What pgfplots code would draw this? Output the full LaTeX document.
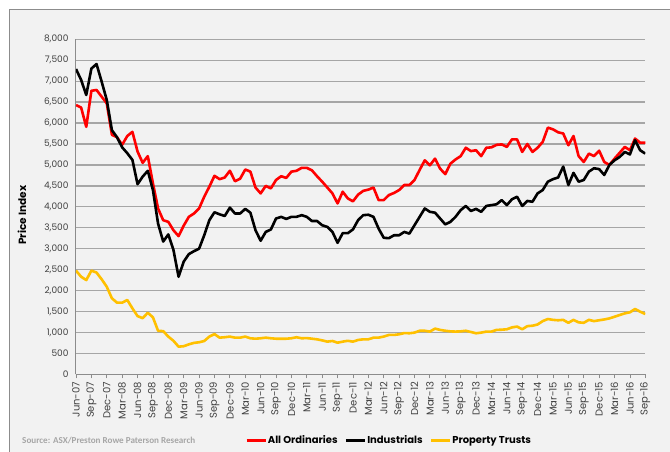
\documentclass[border=0pt]{standalone}
\usepackage{pgfplots}
\pgfplotsset{compat=1.18}
\usepackage{pgfplotstable}
\usepackage{fontspec}
\setmainfont{Poppins}
\newfontfamily\srcfont{Carlito}
\definecolor{bg}{HTML}{F2F2F2}
\definecolor{framegray}{HTML}{8C8C8C}
\definecolor{gridgray}{HTML}{A6A6A6}
\definecolor{axisgray}{HTML}{8C8C8C}
\definecolor{tickcol}{HTML}{404040}
\definecolor{srcgray}{HTML}{A6A6A6}
\definecolor{aored}{HTML}{FF0000}
\definecolor{ptyellow}{HTML}{FFC000}
\pgfplotsset{legend image code/.code={\draw[#1,line width=2.6pt] (0pt,0pt) -- (19pt,0pt);}}

\pgfplotstableread{
m ao ind pt
0 6430 7290 2475
1 6370 7030 2330
2 5910 6670 2250
3 6770 7300 2475
4 6790 7410 2430
5 6630 6990 2270
6 6470 6550 2090
7 5720 5830 1815
8 5660 5660 1710
9 5480 5420 1710
10 5690 5280 1775
11 5790 5120 1575
12 5320 4540 1390
13 5050 4720 1340
14 5210 4860 1470
15 4560 4400 1360
16 3960 3600 1040
17 3680 3170 1030
18 3640 3340 900
19 3440 2970 800
20 3300 2330 660
21 3550 2690 670
22 3760 2870 715
23 3840 2940 750
24 3960 3000 765
25 4240 3320 795
26 4480 3680 900
27 4740 3870 960
28 4660 3820 875
29 4700 3780 885
30 4860 3980 900
31 4610 3840 875
32 4670 3840 875
33 4890 3950 900
34 4840 3860 860
35 4460 3440 850
36 4320 3190 860
37 4500 3400 875
38 4440 3460 860
39 4640 3720 850
40 4730 3760 850
41 4690 3710 850
42 4840 3760 860
43 4860 3760 885
44 4930 3800 860
45 4930 3760 865
46 4870 3660 850
47 4730 3660 835
48 4600 3560 810
49 4460 3520 780
50 4320 3400 795
51 4080 3140 755
52 4360 3370 780
53 4200 3370 800
54 4130 3460 780
55 4290 3680 820
56 4380 3800 835
57 4410 3810 835
58 4460 3760 875
59 4160 3480 875
60 4160 3260 900
61 4280 3250 940
62 4330 3320 940
63 4400 3320 955
64 4520 3400 985
65 4520 3360 980
66 4640 3560 995
67 4880 3760 1040
68 5110 3960 1040
69 4990 3880 1020
70 5150 3860 1090
71 4910 3720 1060
72 4780 3580 1040
73 5030 3640 1025
74 5130 3760 1020
75 5210 3920 1025
76 5410 4020 1040
77 5330 3900 1010
78 5350 3950 980
79 5210 3880 995
80 5410 4020 1020
81 5420 4040 1020
82 5480 4060 1060
83 5490 4160 1065
84 5430 4040 1075
85 5610 4180 1120
86 5610 4240 1140
87 5310 4020 1075
88 5500 4140 1150
89 5310 4120 1160
90 5410 4320 1190
91 5550 4400 1270
92 5890 4600 1320
93 5850 4660 1300
94 5780 4700 1290
95 5750 4960 1300
96 5470 4520 1230
97 5690 4810 1300
98 5210 4600 1240
99 5070 4640 1230
100 5270 4840 1300
101 5210 4920 1270
102 5340 4900 1290
103 5070 4760 1310
104 5000 5000 1335
105 5150 5110 1375
106 5290 5190 1415
107 5430 5310 1455
108 5350 5250 1480
109 5630 5590 1560
110 5530 5350 1495
111 5530 5270 1440
}\datatable

\begin{document}
\begin{tikzpicture}[x=1pt,y=1pt]
\clip (0,0) rectangle (670,452);
\fill[bg] (9,-20) rectangle (700,443);
\draw[framegray, line width=0.8pt] (9,-20) -- (9,443) -- (700,443);
\begin{axis}[
  at={(76pt,77.7pt)}, anchor=south west,
  scale only axis, width=569.3pt, height=335pt,
  xmin=0, xmax=111, ymin=0, ymax=8000,
  axis x line*=bottom, axis y line*=left,
  axis line style={draw=axisgray, line width=1pt},
  ymajorgrids, major grid style={draw=gridgray, line width=1.3pt},
  ytick={0,500,...,8000},
  xtick={0,3,...,111},
  xticklabels={Jun-07,Sep-07,Dec-07,Mar-08,Jun-08,Sep-08,Dec-08,Mar-09,Jun-09,Sep-09,Dec-09,Mar-10,Jun-10,Sep-10,Dec-10,Mar-11,Jun-11,Sep-11,Dec-11,Mar-12,Jun-12,Sep-12,Dec-12,Mar-13,Jun-13,Sep-13,Dec-13,Mar-14,Jun-14,Sep-14,Dec-14,Mar-15,Jun-15,Sep-15,Dec-15,Mar-16,Jun-16,Sep-16},
  tick align=outside, major tick length=4pt,
  tick style={draw=axisgray, line width=0.8pt},
  ytick style={draw=none},
  /pgf/number format/assume math mode=true,
  /pgf/number format/fixed, /pgf/number format/1000 sep={,},
  yticklabel style={font=\fontsize{9}{10}\selectfont, text=tickcol},
  xticklabel style={font=\fontsize{10}{11}\selectfont, text=tickcol, rotate=90, anchor=east},
  ylabel={Price Index},
  ylabel style={at={(axis description cs:-0.095,0.475)}, anchor=center, font=\bfseries\fontsize{10.5}{12}\selectfont},
  legend style={at={(axis description cs:0.297,-0.198)}, anchor=west, draw=none, fill=none,
    legend columns=3, font=\bfseries\fontsize{10}{11}\selectfont, inner sep=0pt,
    nodes={inner sep=1pt}, /tikz/every even column/.append style={column sep=6pt}},
  every axis plot/.append style={line width=2.6pt, line join=round},
]
\addplot[aored] table[x=m,y=ao] {\datatable};
\addlegendentry{All Ordinaries}
\addplot[black] table[x=m,y=ind] {\datatable};
\addlegendentry{Industrials}
\addplot[ptyellow] table[x=m,y=pt] {\datatable};
\addlegendentry{Property Trusts}
\end{axis}
\node[anchor=west, text=srcgray, font=\srcfont\bfseries\fontsize{9.1}{10}\selectfont, inner sep=0pt] at (22,11) {Source: ASX/Preston Rowe Paterson Research};
\end{tikzpicture}
\end{document}
